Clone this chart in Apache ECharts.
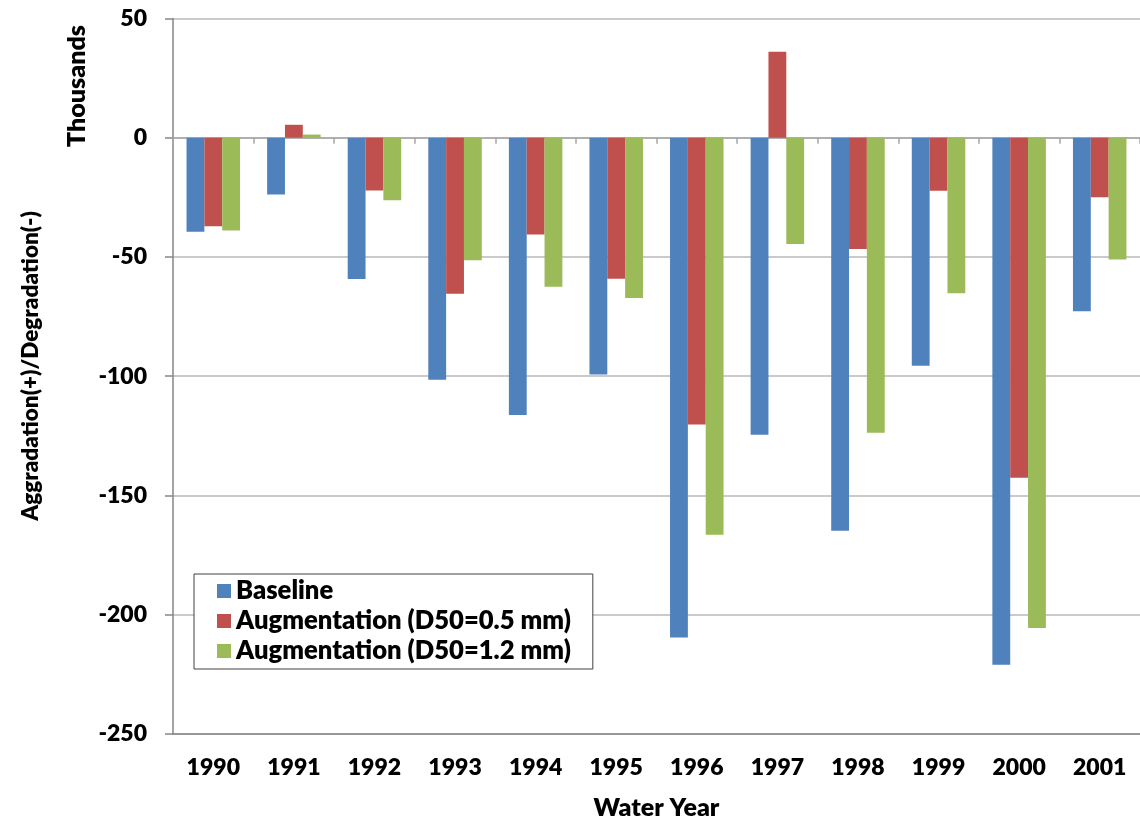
<!DOCTYPE html>
<html>
<head>
<meta charset="utf-8">
<script src="https://cdn.jsdelivr.net/npm/echarts@6/dist/echarts.min.js"></script>
<style>
html,body{margin:0;padding:0;background:#fff;}
#chart{width:1140px;height:825px;}
</style>
</head>
<body>
<div id="chart"></div>
<script>
const years = ['1990','1991','1992','1993','1994','1995','1996','1997','1998','1999','2000','2001'];
const baseline = [-39.4, -23.8, -59.2, -101.5, -116.3, -99.3, -209.5, -124.5, -164.8, -95.6, -221.0, -72.8];
const aug05 = [-37.1, 5.4, -22.1, -65.4, -40.6, -59.1, -120.2, 36.0, -46.7, -22.3, -142.6, -25.0];
const aug12 = [-38.9, 1.3, -26.2, -51.4, -62.5, -67.2, -166.5, -44.6, -123.7, -65.2, -205.6, -51.1];
const seriesNames = ['Baseline', 'Augmentation (D50=0.5 mm)', 'Augmentation (D50=1.2 mm)'];
const yTicks = { min: -250, max: 50, interval: 50 };

const FONT = 'Lato';
const W = 800;
const chart = echarts.init(document.getElementById('chart'), null, { renderer: 'canvas' });
const option = {
  animation: false,
  backgroundColor: '#ffffff',
  color: ['#4F81BD', '#C0504D', '#9BBB59'],
  grid: { left: 173, right: 0, top: 18.4, bottom: 89.3, containLabel: false },
  legend: {
    orient: 'vertical',
    left: 194,
    top: 574,
    data: seriesNames,
    icon: 'rect',
    itemWidth: 14,
    itemHeight: 14,
    itemGap: 4,
    itemTextGap: 10,
    padding: [4, 22, 5, 23],
    backgroundColor: '#ffffff',
    borderColor: '#404040',
    borderWidth: 1,
    textStyle: { fontFamily: FONT, fontWeight: W, fontSize: 25.6, color: '#000' }
  },
  xAxis: [
    {
      type: 'category',
      data: years,
      position: 'bottom',
      axisLine: { onZero: false, lineStyle: { color: '#868686', width: 1.5 } },
      axisTick: { show: false },
      axisLabel: { fontFamily: FONT, fontWeight: W, fontSize: 23, color: '#000', margin: 22 },
      name: 'Water Year',
      nameLocation: 'middle',
      nameGap: 61,
      nameTextStyle: { fontFamily: FONT, fontWeight: W, fontSize: 25, color: '#000' },
      splitLine: { show: false }
    },
    {
      type: 'category',
      data: years,
      position: 'bottom',
      axisLine: { onZero: true, lineStyle: { color: '#a6a6a6', width: 1.5 } },
      axisTick: { show: true, length: 6, lineStyle: { color: '#a6a6a6', width: 1.5 } },
      axisLabel: { show: false },
      splitLine: { show: false }
    }
  ],
  yAxis: {
    type: 'value',
    min: yTicks.min,
    max: yTicks.max,
    interval: yTicks.interval,
    axisLine: { show: true, lineStyle: { color: '#868686', width: 1.5 } },
    axisTick: { show: true, length: 8, lineStyle: { color: '#868686', width: 1.5 } },
    axisLabel: { fontFamily: FONT, fontWeight: W, fontSize: 23, color: '#000', margin: 26 },
    splitLine: { show: true, lineStyle: { color: '#b8b8b8', width: 1.5 } }
  },
  graphic: [
    {
      type: 'text',
      x: 31, y: 366,
      rotation: Math.PI / 2,
      style: { text: 'Aggradation(+)/Degradation(-)', fontFamily: FONT, fontWeight: W, fontSize: 22.5, fill: '#000', textAlign: 'center', textVerticalAlign: 'middle' }
    },
    {
      type: 'text',
      x: 77, y: 86,
      rotation: Math.PI / 2,
      style: { text: 'Thousands', fontFamily: FONT, fontWeight: W, fontSize: 25, fill: '#000', textAlign: 'center', textVerticalAlign: 'middle' }
    }
  ],
  series: [
    { name: seriesNames[0], type: 'bar', data: baseline, barGap: '0%', barCategoryGap: '33.6%' },
    { name: seriesNames[1], type: 'bar', data: aug05, barGap: '0%', barCategoryGap: '33.6%' },
    { name: seriesNames[2], type: 'bar', data: aug12, barGap: '0%', barCategoryGap: '33.6%' }
  ]
};
chart.setOption(option);
</script>
</body>
</html>
